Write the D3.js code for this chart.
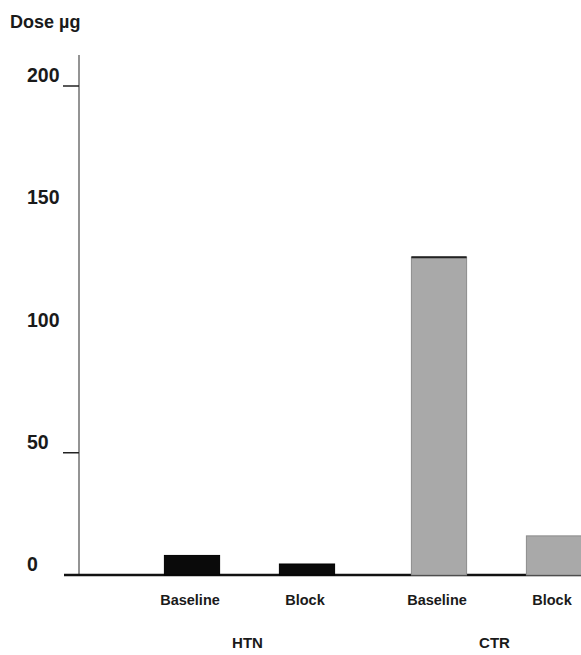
<!DOCTYPE html>
<html><head><meta charset="utf-8">
<script src="https://cdn.jsdelivr.net/npm/d3@7"></script>
<style>body{margin:0;background:#fff;}svg{display:block;}</style>
</head><body>
<script>
const groups = ["HTN", "CTR"];
const conditions = ["Baseline", "Block"];
const htnValues = [8, 4.5];
const ctrValues = [130, 16];
const yTickValues = [0, 50, 100, 150, 200];
const yTickMarks = [50, 200];
const yLabel = "Dose µg";

const W = 581, H = 655;
const svg = d3.select("body").append("svg").attr("width", W).attr("height", H);
const font = "'Liberation Sans', Arial, sans-serif";

const y = d3.scaleLinear().domain([0, 200]).range([575, 86]);
const xGroup = d3.scaleBand().domain(groups).range([126, 620]);
const xInner = d3.scaleBand().domain(conditions).range([0, xGroup.bandwidth()])
  .paddingInner(0.52).paddingOuter(0.334);
const groupColor = d3.scaleOrdinal().domain(groups).range(["#0a0a0a", "#a9a9a9"]);
const groupStroke = d3.scaleOrdinal().domain(groups).range(["#000", "#8c8c8c"]);

const data = [];
groups.forEach((g, gi) => {
  const vals = gi === 0 ? htnValues : ctrValues;
  conditions.forEach((c, ci) => data.push({group: g, cond: c, value: vals[ci]}));
});

const axisX = 79;

svg.append("line").attr("x1", axisX).attr("x2", axisX)
  .attr("y1", 55).attr("y2", y(0))
  .attr("stroke", "#707070").attr("stroke-width", 1.5);

svg.selectAll(".tick").data(yTickMarks).enter().append("line")
  .attr("x1", 63).attr("x2", axisX)
  .attr("y1", d => y(d)).attr("y2", d => y(d))
  .attr("stroke", "#222").attr("stroke-width", 1.5);

svg.selectAll(".ylab").data(yTickValues).enter().append("text")
  .attr("x", 27).attr("y", d => y(d) - 4)
  .attr("font-family", font).attr("font-weight", "bold").attr("font-size", 19.5)
  .attr("fill", "#1a1a1a")
  .text(d => d);

svg.append("text").attr("x", 10).attr("y", 28)
  .attr("font-family", font).attr("font-weight", "bold").attr("font-size", 18)
  .attr("fill", "#1a1a1a").text(yLabel);

svg.append("line").attr("x1", 64).attr("x2", W)
  .attr("y1", y(0)).attr("y2", y(0))
  .attr("stroke", "#111").attr("stroke-width", 2.5);

svg.selectAll(".bar").data(data).enter().append("rect")
  .attr("x", d => xGroup(d.group) + xInner(d.cond))
  .attr("width", xInner.bandwidth())
  .attr("y", d => y(d.value))
  .attr("height", d => y(0) - y(d.value))
  .attr("fill", d => groupColor(d.group))
  .attr("stroke", d => groupStroke(d.group)).attr("stroke-width", 1);

svg.selectAll(".topedge").data(data.filter(d => d.group === "CTR" && d.cond === "Baseline")).enter()
  .append("line")
  .attr("x1", d => xGroup(d.group) + xInner(d.cond))
  .attr("x2", d => xGroup(d.group) + xInner(d.cond) + xInner.bandwidth())
  .attr("y1", d => y(d.value)).attr("y2", d => y(d.value))
  .attr("stroke", "#222").attr("stroke-width", 2);

svg.selectAll(".xlab").data(data).enter().append("text")
  .attr("x", d => xGroup(d.group) + xInner(d.cond) + xInner.bandwidth() / 2 - 2)
  .attr("y", 605)
  .attr("text-anchor", "middle")
  .attr("font-family", font).attr("font-weight", "bold").attr("font-size", 14.5)
  .attr("fill", "#1a1a1a")
  .text(d => d.cond);

svg.selectAll(".glab").data(groups).enter().append("text")
  .attr("x", d => xGroup(d) + xGroup.bandwidth() / 2 - 2)
  .attr("y", 648)
  .attr("text-anchor", "middle")
  .attr("font-family", font).attr("font-weight", "bold").attr("font-size", 15)
  .attr("fill", "#1a1a1a")
  .text(d => d);
</script>
</body></html>
